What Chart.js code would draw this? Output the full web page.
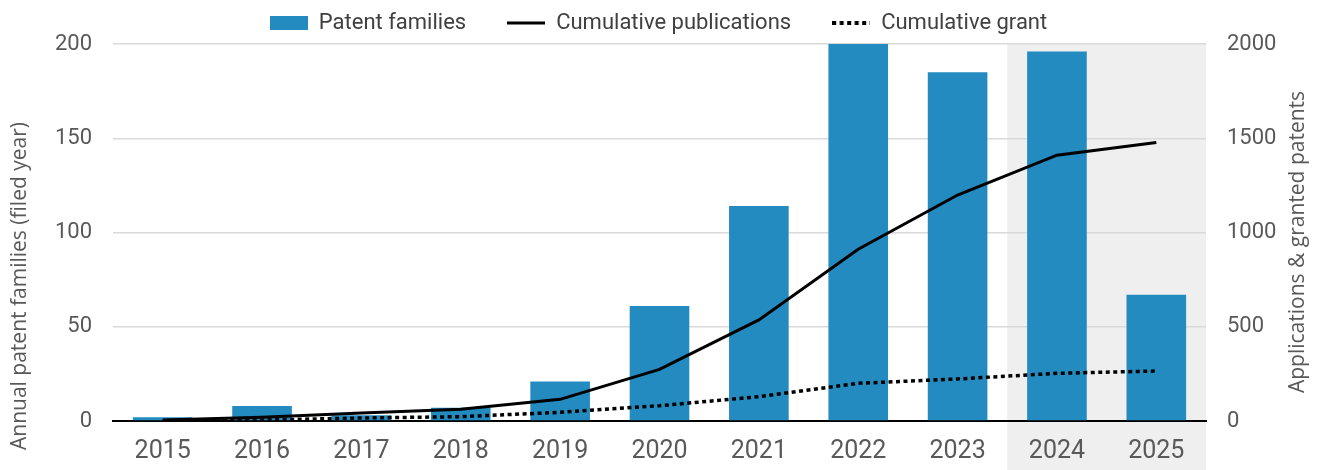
<!DOCTYPE html>
<html>
<head>
<meta charset="utf-8">
<script src="https://cdn.jsdelivr.net/npm/chart.js@4/dist/chart.umd.min.js"></script>
<style>
  html, body { margin: 0; padding: 0; background: #fff; }
  #wrap { width: 1317px; height: 470px; }
</style>
</head>
<body>
<div id="wrap"><canvas id="chart" width="1317" height="470"></canvas></div>
<script>
const years = ['2015', '2016', '2017', '2018', '2019', '2020', '2021', '2022', '2023', '2024', '2025'];
const patentFamilies = [2, 8, 3, 7, 21, 61, 114, 200, 185, 196, 67];
const cumulativePublications = [5, 20, 42, 62, 115, 274, 536, 911, 1199, 1410, 1478];
const cumulativeGrant = [0, 5, 16, 23, 46, 81, 129, 200, 223, 253, 265];
const leftTicks = [0, 50, 100, 150, 200];
const rightTicks = [0, 500, 1000, 1500, 2000];
const shadedFrom = '2024';

const uiChart = document.getElementById('chart');
const textGrey = '#595959';
const tickFont = 'Roboto, "Liberation Sans", sans-serif';
const titleFont = '"Open Sans", "Noto Sans", sans-serif';
const barBlue = '#238bbf';

// small legend swatches, the built-in point styles ignore dashes
function swatch(w, h, draw) {
	const c = document.createElement('canvas');
	c.width = w;
	c.height = h;
	draw(c.getContext('2d'));
	return c;
}
const boxSwatch = swatch(38, 14, ctx => { ctx.fillStyle = barBlue; ctx.fillRect(0, 0, 38, 14); });
const solidSwatch = swatch(38, 4, ctx => { ctx.fillStyle = '#000'; ctx.fillRect(0, 0.5, 38, 3); });
const dotSwatch = swatch(38, 4, ctx => {
	ctx.fillStyle = '#000';
	for (let x = 0; x < 38; x += 7.5) ctx.fillRect(x, 0, 4, 4);
});

// grey band behind the last years
const shadePlugin = {
	id: 'shade',
	beforeDraw(chart) {
		const x = chart.scales.x;
		const i = years.indexOf(shadedFrom);
		const left = (x.getPixelForValue(i - 1) + x.getPixelForValue(i)) / 2;
		const a = chart.chartArea;
		const ctx = chart.ctx;
		ctx.save();
		ctx.fillStyle = '#efefef';
		ctx.fillRect(left, a.top, a.right - left, chart.height - a.top);
		ctx.restore();
	}
};

// axis titles, placed like the original
function rotatedText(ctx, text, x, y) {
	ctx.save();
	ctx.fillStyle = textGrey;
	ctx.font = '21px ' + titleFont;
	ctx.textAlign = 'center';
	ctx.textBaseline = 'middle';
	ctx.translate(x, y);
	ctx.rotate(-Math.PI / 2);
	ctx.fillText(text, 0, 0);
	ctx.restore();
}
const axisTitles = {
	id: 'axisTitles',
	afterDraw(chart) {
		rotatedText(chart.ctx, 'Annual patent families (filed year)', 20, 286);
		rotatedText(chart.ctx, 'Applications & granted patents', 1298, 242);
	}
};

const chart = new Chart(uiChart, {
	data: {
		labels: years,
		datasets: [
			{
				type: 'bar',
				label: 'Patent families',
				data: patentFamilies,
				backgroundColor: barBlue,
				borderWidth: 0,
				barPercentage: 0.6,
				categoryPercentage: 1,
				pointStyle: boxSwatch,
				yAxisID: 'y',
				order: 2
			},
			{
				type: 'line',
				label: 'Cumulative publications',
				data: cumulativePublications,
				borderColor: '#000',
				backgroundColor: '#000',
				borderWidth: 3,
				pointRadius: 0,
				pointStyle: solidSwatch,
				tension: 0,
				yAxisID: 'y2',
				order: 1
			},
			{
				type: 'line',
				label: 'Cumulative grant',
				data: cumulativeGrant,
				borderColor: '#000',
				backgroundColor: '#000',
				borderWidth: 3.5,
				borderDash: [4, 3.5],
				pointRadius: 0,
				pointStyle: dotSwatch,
				tension: 0,
				yAxisID: 'y2',
				order: 0
			}
		]
	},
	options: {
		responsive: false,
		animation: false,
		devicePixelRatio: 1,
		layout: { padding: { top: -29, left: 0, right: 0, bottom: 0 } },
		plugins: {
			tooltip: { enabled: false },
			legend: {
				position: 'top',
				maxHeight: 77,
				labels: {
					usePointStyle: true,
					pointStyleWidth: 38,
					boxHeight: 14,
					padding: 41,
					color: '#404040',
					font: { family: tickFont, size: 22 },
					sort: (a, b) => a.datasetIndex - b.datasetIndex
				}
			}
		},
		scales: {
			x: {
				grid: { display: false, drawTicks: false },
				border: { color: '#000', width: 2 },
				ticks: { color: textGrey, font: { family: tickFont, size: 25 }, padding: 16, maxRotation: 0 },
				afterFit(scale) { scale.height = 49; }
			},
			y: {
				position: 'left',
				min: 0,
				max: 200,
				afterBuildTicks(scale) { scale.ticks = leftTicks.map(v => ({ value: v })); },
				grid: { color: '#d9d9d9', lineWidth: 1.5, drawTicks: false },
				border: { display: false },
				ticks: { color: textGrey, font: { family: tickFont, size: 22 }, padding: 21, callback: v => String(v) },
				afterFit(scale) { scale.width = 113; }
			},
			y2: {
				position: 'right',
				min: 0,
				max: 2000,
				afterBuildTicks(scale) { scale.ticks = rightTicks.map(v => ({ value: v })); },
				grid: { display: false, drawTicks: false },
				border: { display: false },
				ticks: { color: textGrey, font: { family: tickFont, size: 22 }, padding: 21, callback: v => String(v) },
				afterFit(scale) { scale.width = 111; }
			}
		}
	},
	plugins: [shadePlugin, axisTitles]
});
</script>
</body>
</html>
